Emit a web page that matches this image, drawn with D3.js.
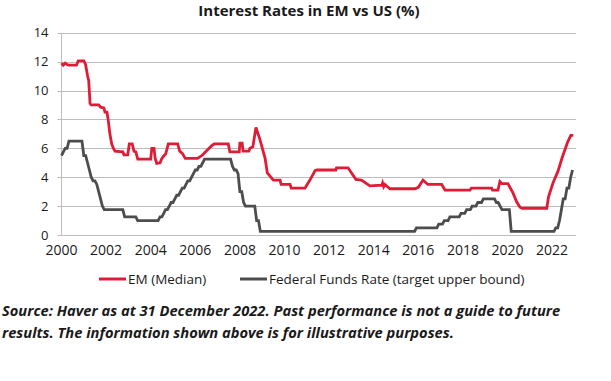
<!DOCTYPE html>
<html>
<head>
<meta charset="utf-8">
<script src="https://cdn.jsdelivr.net/npm/d3@7"></script>
<style>
  body { margin: 0; background: #fff; }
  svg { display: block; }
  text { font-family: "Open Sans", sans-serif; fill: #1a1a1a; }
</style>
</head>
<body>
<div class="content"></div>
<script>
// EM median policy rate as [year, %]
var emPoints = [
  [2000.00, 11.9], [2000.08, 11.75], [2000.17, 11.9], [2000.25, 11.8], [2000.33, 11.75],
  [2000.67, 11.75], [2000.75, 12.05], [2001.00, 12.05], [2001.08, 11.8], [2001.17, 11.0],
  [2001.22, 10.7], [2001.28, 9.1], [2001.33, 9.0], [2001.67, 9.0], [2001.75, 8.85],
  [2001.90, 8.8], [2001.95, 8.5], [2002.04, 8.5], [2002.10, 7.9], [2002.17, 7.0],
  [2002.25, 6.3], [2002.33, 6.0], [2002.40, 5.8], [2002.75, 5.75], [2002.80, 5.55],
  [2002.97, 5.55], [2003.04, 6.3], [2003.17, 6.3], [2003.25, 5.8], [2003.33, 5.75],
  [2003.42, 5.25], [2004.00, 5.25], [2004.05, 6.0], [2004.15, 6.0], [2004.20, 5.3],
  [2004.27, 4.95], [2004.42, 5.0], [2004.50, 5.3], [2004.60, 5.5], [2004.67, 5.6],
  [2004.79, 6.3], [2005.21, 6.3], [2005.30, 5.8], [2005.42, 5.65], [2005.55, 5.3],
  [2006.10, 5.3], [2006.30, 5.5], [2006.55, 5.9], [2006.75, 6.2], [2006.85, 6.3],
  [2007.48, 6.3], [2007.55, 5.75], [2007.97, 5.75], [2008.00, 6.35], [2008.10, 6.35],
  [2008.14, 5.8], [2008.40, 5.8], [2008.45, 6.0], [2008.58, 6.1], [2008.72, 7.45],
  [2008.90, 6.6], [2009.13, 5.3], [2009.23, 4.3], [2009.50, 3.8], [2009.80, 3.8],
  [2009.85, 3.5], [2010.25, 3.5], [2010.30, 3.25], [2010.92, 3.25], [2011.14, 3.8],
  [2011.37, 4.45], [2011.45, 4.5], [2012.30, 4.5], [2012.33, 4.65], [2012.85, 4.65],
  [2013.20, 3.85], [2013.45, 3.8], [2013.83, 3.4], [2014.37, 3.45], [2014.40, 3.6],
  [2014.45, 3.35], [2014.50, 3.5], [2014.73, 3.2], [2015.85, 3.2], [2016.00, 3.3],
  [2016.21, 3.8], [2016.43, 3.5], [2017.05, 3.5], [2017.20, 3.1], [2018.32, 3.1],
  [2018.38, 3.25], [2019.29, 3.25], [2019.33, 3.1], [2019.57, 3.1], [2019.66, 3.7],
  [2019.75, 3.55], [2020.02, 3.55], [2020.25, 2.9], [2020.41, 2.3], [2020.56, 1.92],
  [2020.65, 1.85], [2021.76, 1.85], [2021.84, 2.65], [2022.04, 3.6], [2022.26, 4.4],
  [2022.46, 5.4], [2022.60, 6.0], [2022.70, 6.45], [2022.84, 6.9], [2022.95, 6.9]
];

// Fed funds target upper bound, month-end changes as [year, month (1-12), %]
var fedChanges = [
  [2000, 1, 5.5], [2000, 2, 5.75], [2000, 3, 6.0], [2000, 5, 6.5],
  [2001, 1, 5.5], [2001, 3, 5.0], [2001, 4, 4.5], [2001, 5, 4.0], [2001, 6, 3.75],
  [2001, 8, 3.5], [2001, 9, 3.0], [2001, 10, 2.5], [2001, 11, 2.0], [2001, 12, 1.75],
  [2002, 11, 1.25], [2003, 6, 1.0],
  [2004, 6, 1.25], [2004, 8, 1.5], [2004, 9, 1.75], [2004, 11, 2.0], [2004, 12, 2.25],
  [2005, 2, 2.5], [2005, 3, 2.75], [2005, 5, 3.0], [2005, 6, 3.25], [2005, 8, 3.5],
  [2005, 9, 3.75], [2005, 11, 4.0], [2005, 12, 4.25],
  [2006, 1, 4.5], [2006, 3, 4.75], [2006, 5, 5.0], [2006, 6, 5.25],
  [2007, 9, 4.75], [2007, 10, 4.5], [2007, 12, 4.25],
  [2008, 1, 3.0], [2008, 3, 2.25], [2008, 4, 2.0], [2008, 10, 1.0], [2008, 12, 0.25],
  [2015, 12, 0.5], [2016, 12, 0.75],
  [2017, 3, 1.0], [2017, 6, 1.25], [2017, 12, 1.5],
  [2018, 3, 1.75], [2018, 6, 2.0], [2018, 9, 2.25], [2018, 12, 2.5],
  [2019, 7, 2.25], [2019, 9, 2.0], [2019, 10, 1.75],
  [2020, 3, 0.25],
  [2022, 3, 0.5], [2022, 5, 1.0], [2022, 6, 1.75], [2022, 7, 2.5], [2022, 9, 3.25],
  [2022, 11, 4.0], [2022, 12, 4.5]
];
var fedEnd = [2022, 12];

var yearTicks = [2000, 2002, 2004, 2006, 2008, 2010, 2012, 2014, 2016, 2018, 2020, 2022];
var rateTicks = [0, 2, 4, 6, 8, 10, 12, 14];

var seriesNames = ["EM (Median)", "Federal Funds Rate (target upper bound)"];
var seriesColors = ["#e01b36", "#4d4d4d"];

var width = 611, height = 381;
var plotLeft = 61.5, plotRight = 576, plotTop = 32.7, plotBottom = 235;

var svg = d3.select('.content').append('svg')
  .attr('width', width)
  .attr('height', height);

var x = d3.scaleLinear().domain([2000, 2023]).range([plotLeft, plotLeft + 23 * 22.3]);
var y = d3.scaleLinear().domain([0, 14]).range([plotBottom, plotTop]);

// month -> decimal year (Jan 2000 = 2000.0)
function monthYear(yr, mo) { return yr + (mo - 1) / 12; }

// fed line: hold previous value until the month before a change
var fedPts = [];
fedChanges.forEach(function (d, i) {
  var t = monthYear(d[0], d[1]);
  if (i > 0) fedPts.push([t - 1 / 12, fedChanges[i - 1][2]]);
  fedPts.push([t, d[2]]);
});
fedPts.push([monthYear(fedEnd[0], fedEnd[1]), fedChanges[fedChanges.length - 1][2]]);

// title
svg.append('text')
  .attr('x', 309).attr('y', 15.5)
  .attr('text-anchor', 'middle')
  .style('font-size', '15px')
  .style('font-weight', 'bold')
  .text('Interest Rates in EM vs US (%)');

// grid
svg.append('g').selectAll('line')
  .data(rateTicks)
  .enter().append('line')
  .attr('x1', plotLeft - 4).attr('x2', plotRight)
  .attr('y1', function (d) { return Math.round(y(d)) + 0.5; })
  .attr('y2', function (d) { return Math.round(y(d)) + 0.5; })
  .attr('stroke', '#bdbdbd')
  .attr('stroke-width', 1);

svg.append('line')
  .attr('x1', plotLeft).attr('x2', plotLeft)
  .attr('y1', plotTop).attr('y2', plotBottom)
  .attr('stroke', '#bdbdbd');

// y labels
svg.append('g').selectAll('text')
  .data(rateTicks)
  .enter().append('text')
  .attr('x', plotLeft - 13)
  .attr('y', function (d) { return y(d) + 4.5; })
  .attr('text-anchor', 'end')
  .style('font-size', '13px')
  .text(function (d) { return d; });

// x labels
svg.append('g').selectAll('text')
  .data(yearTicks)
  .enter().append('text')
  .attr('x', function (d) { return x(d); })
  .attr('y', 255)
  .attr('text-anchor', 'middle')
  .style('font-size', '14px')
  .text(function (d) { return d; });

var line = d3.line()
  .x(function (d) { return x(d[0]); })
  .y(function (d) { return y(d[1]); });

svg.append('path')
  .datum(fedPts)
  .attr('d', line)
  .attr('fill', 'none')
  .attr('stroke', seriesColors[1])
  .attr('stroke-width', 2.8);

svg.append('path')
  .datum(emPoints)
  .attr('d', line)
  .attr('fill', 'none')
  .attr('stroke', seriesColors[0])
  .attr('stroke-width', 2.8);

// legend
var legendX = [99, 240];
var lg = svg.append('g').selectAll('g')
  .data(seriesNames)
  .enter().append('g')
  .attr('transform', function (d, i) { return 'translate(' + legendX[i] + ',279)'; });
lg.append('line')
  .attr('x1', 0).attr('x2', 27)
  .attr('stroke', function (d, i) { return seriesColors[i]; })
  .attr('stroke-width', 3);
lg.append('text')
  .attr('x', 29).attr('y', 4.5)
  .style('font-size', '13.5px')
  .text(function (d) { return d; });

// source note
var note = [
  'Source: Haver as at 31 December 2022. Past performance is not a guide to future',
  'results. The information shown above is for illustrative purposes.'
];
svg.append('g').selectAll('text')
  .data(note)
  .enter().append('text')
  .attr('x', 2)
  .attr('y', function (d, i) { return 316 + i * 22; })
  .style('font-size', '14.7px')
  .style('font-weight', 'bold')
  .style('font-style', 'italic')
  .text(function (d) { return d; });
</script>
</body>
</html>
